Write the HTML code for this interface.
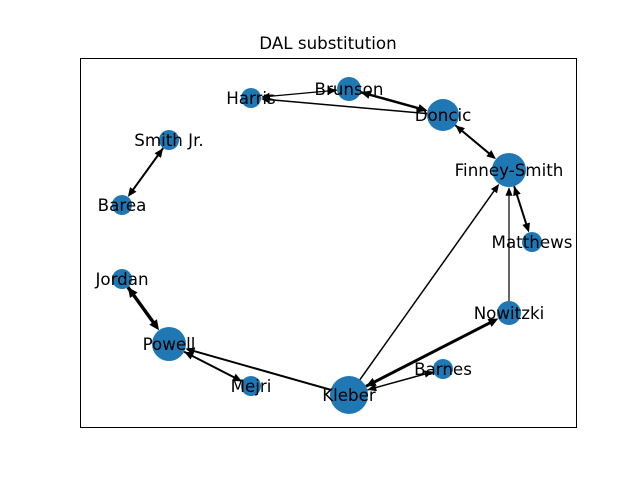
<!DOCTYPE html>
<html><head><meta charset="utf-8"><style>
html,body{margin:0;padding:0;background:#fff;}
svg{display:block;font-family:"DejaVu Sans","Liberation Sans",sans-serif;}
</style></head><body>
<svg id="s" width="640" height="480" viewBox="0 0 640 480" xmlns="http://www.w3.org/2000/svg">
<rect x="0" y="0" width="640" height="480" fill="#fff"/>
<rect x="80.5" y="58.5" width="496" height="369" fill="none" stroke="#000" stroke-width="1"/>
<text x="328" y="49" font-size="16.7" text-anchor="middle">DAL substitution</text>
<g id="e"></g><g id="n"></g><g id="t"></g>
</svg>
<script>
var N={Harris:[251,98,10],Brunson:[349,89,12],Doncic:[443,115,16],"Smith Jr.":[169,140,10],
"Finney-Smith":[509,170,17],Barea:[122,205,10],Matthews:[532,242,10],Jordan:[122,279,10],
Nowitzki:[509,313,12],Powell:[169,344,17],Barnes:[443,369,10],Mejri:[251,386,10],Kleber:[349,395,19]};
var E=[["Brunson","Harris",1.2,1,1],["Doncic","Harris",1.5,1,0],["Brunson","Doncic",2.5,1,1],
["Doncic","Finney-Smith",2,1,1],["Smith Jr.","Barea",2,1,1],["Finney-Smith","Matthews",2,1,1],
["Nowitzki","Finney-Smith",1.2,1,0],["Kleber","Finney-Smith",1.5,1,0],["Jordan","Powell",3.5,1,1],
["Powell","Mejri",2,1,1],["Kleber","Powell",2,1,0],["Kleber","Nowitzki",3,1,1],["Kleber","Barnes",1.5,1,1]];
var ns="http://www.w3.org/2000/svg";
function el(t,a,p){var e=document.createElementNS(ns,t);for(var k in a)e.setAttribute(k,a[k]);document.getElementById(p).appendChild(e);return e;}
function head(x,y,ux,uy,w){var L=8+w,H=3+w*0.8;var bx=x-ux*L,by=y-uy*L;
el("polygon",{points:x+","+y+" "+(bx-uy*H)+","+(by+ux*H)+" "+(bx+uy*H)+","+(by-ux*H),fill:"#000"},"e");}
E.forEach(function(d){var a=N[d[0]],b=N[d[1]];var dx=b[0]-a[0],dy=b[1]-a[1],l=Math.hypot(dx,dy),ux=dx/l,uy=dy/l;
var x1=a[0]+ux*(d[4]?a[2]:0),y1=a[1]+uy*(d[4]?a[2]:0),x2=b[0]-ux*b[2],y2=b[1]-uy*b[2];
el("line",{x1:x1,y1:y1,x2:x2-ux*(d[3]?4:0),y2:y2-uy*(d[3]?4:0),stroke:"#000","stroke-width":d[2]},"e");
if(d[3])head(x2,y2,ux,uy,d[2]*0.6);if(d[4])head(x1,y1,-ux,-uy,d[2]*0.6);});
for(var k in N){var v=N[k];el("circle",{cx:v[0],cy:v[1],r:v[2],fill:"#1f77b4"},"n");
var t=el("text",{x:v[0],y:v[1]+6,"font-size":"16.7","text-anchor":"middle",fill:"#000"},"t");t.textContent=k;}
</script>
</body></html>
